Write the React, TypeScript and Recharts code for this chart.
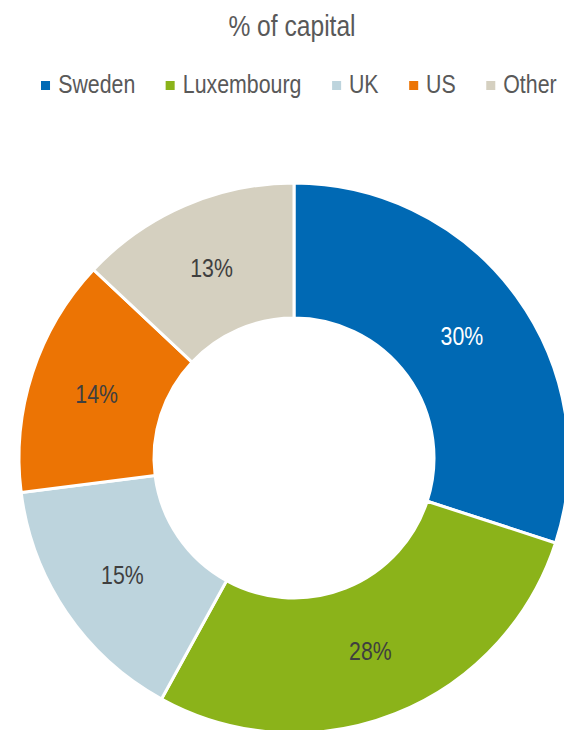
import { PieChart, Pie, Cell } from 'recharts';

const countries = ['Sweden', 'Luxembourg', 'UK', 'US', 'Other'];
const shares = [30, 28, 15, 14, 13];
const colors = ['#0069B4', '#8BB31A', '#BDD4DD', '#EC7404', '#D5D0C0'];
const labelColors = ['#FFFFFF', '#3F3F3F', '#3F3F3F', '#3F3F3F', '#3F3F3F'];

const data = countries.map((name, i) => ({ name, value: shares[i] }));

// no narrow font installed, so squeeze Liberation Sans horizontally
const FONT = '"Liberation Sans", Arial, sans-serif';
const NARROW = 0.82;
const RAD = Math.PI / 180;

function SliceLabel(props: any) {
  const { cx, cy, midAngle, innerRadius, outerRadius, value, index } = props;
  const r = (innerRadius + outerRadius) / 2;
  const x = cx + r * Math.cos(-midAngle * RAD);
  const y = cy + r * Math.sin(-midAngle * RAD);
  return (
    <text
      x={0}
      y={0}
      transform={`translate(${x},${y}) scale(${NARROW},1)`}
      fill={labelColors[index]}
      textAnchor="middle"
      dominantBaseline="central"
      fontSize={26}
      fontFamily={FONT}
    >
      {`${value}%`}
    </text>
  );
}

export default function App() {
  return (
    <div style={{ position: 'absolute', left: 0, top: 0, width: 564, height: 730, background: '#fff', overflow: 'hidden', fontFamily: FONT }}>
      <div style={{ position: 'absolute', top: 8, left: 10, width: 564, textAlign: 'center', fontSize: 30, color: '#595959', lineHeight: '36px', transform: `scaleX(${NARROW})` }}>
        % of capital
      </div>
      <div
        style={{
          position: 'absolute',
          top: 69,
          left: 41,
          display: 'flex',
          alignItems: 'center',
          fontSize: 26,
          color: '#595959',
          lineHeight: '30px',
          whiteSpace: 'nowrap',
          transform: `scaleX(${NARROW})`,
          transformOrigin: 'left center',
        }}
      >
        {countries.map((name, i) => (
          <div key={name} style={{ display: 'flex', alignItems: 'center', marginRight: 37 }}>
            <span style={{ display: 'inline-block', width: 11, height: 9, marginTop: 2, background: colors[i], marginRight: 10 }} />
            <span>{name}</span>
          </div>
        ))}
      </div>
      <div style={{ position: 'absolute', left: 0, top: 0 }}>
        <PieChart width={564} height={730} margin={{ top: 0, right: 0, bottom: 0, left: 0 }}>
          <Pie
            data={data}
            dataKey="value"
            nameKey="name"
            cx={294}
            cy={458}
            innerRadius={140}
            outerRadius={275}
            startAngle={90}
            endAngle={-270}
            stroke="#FFFFFF"
            strokeWidth={3}
            label={SliceLabel}
            labelLine={false}
            isAnimationActive={false}
          >
            {data.map((d, i) => (
              <Cell key={d.name} fill={colors[i]} />
            ))}
          </Pie>
        </PieChart>
      </div>
    </div>
  );
}
